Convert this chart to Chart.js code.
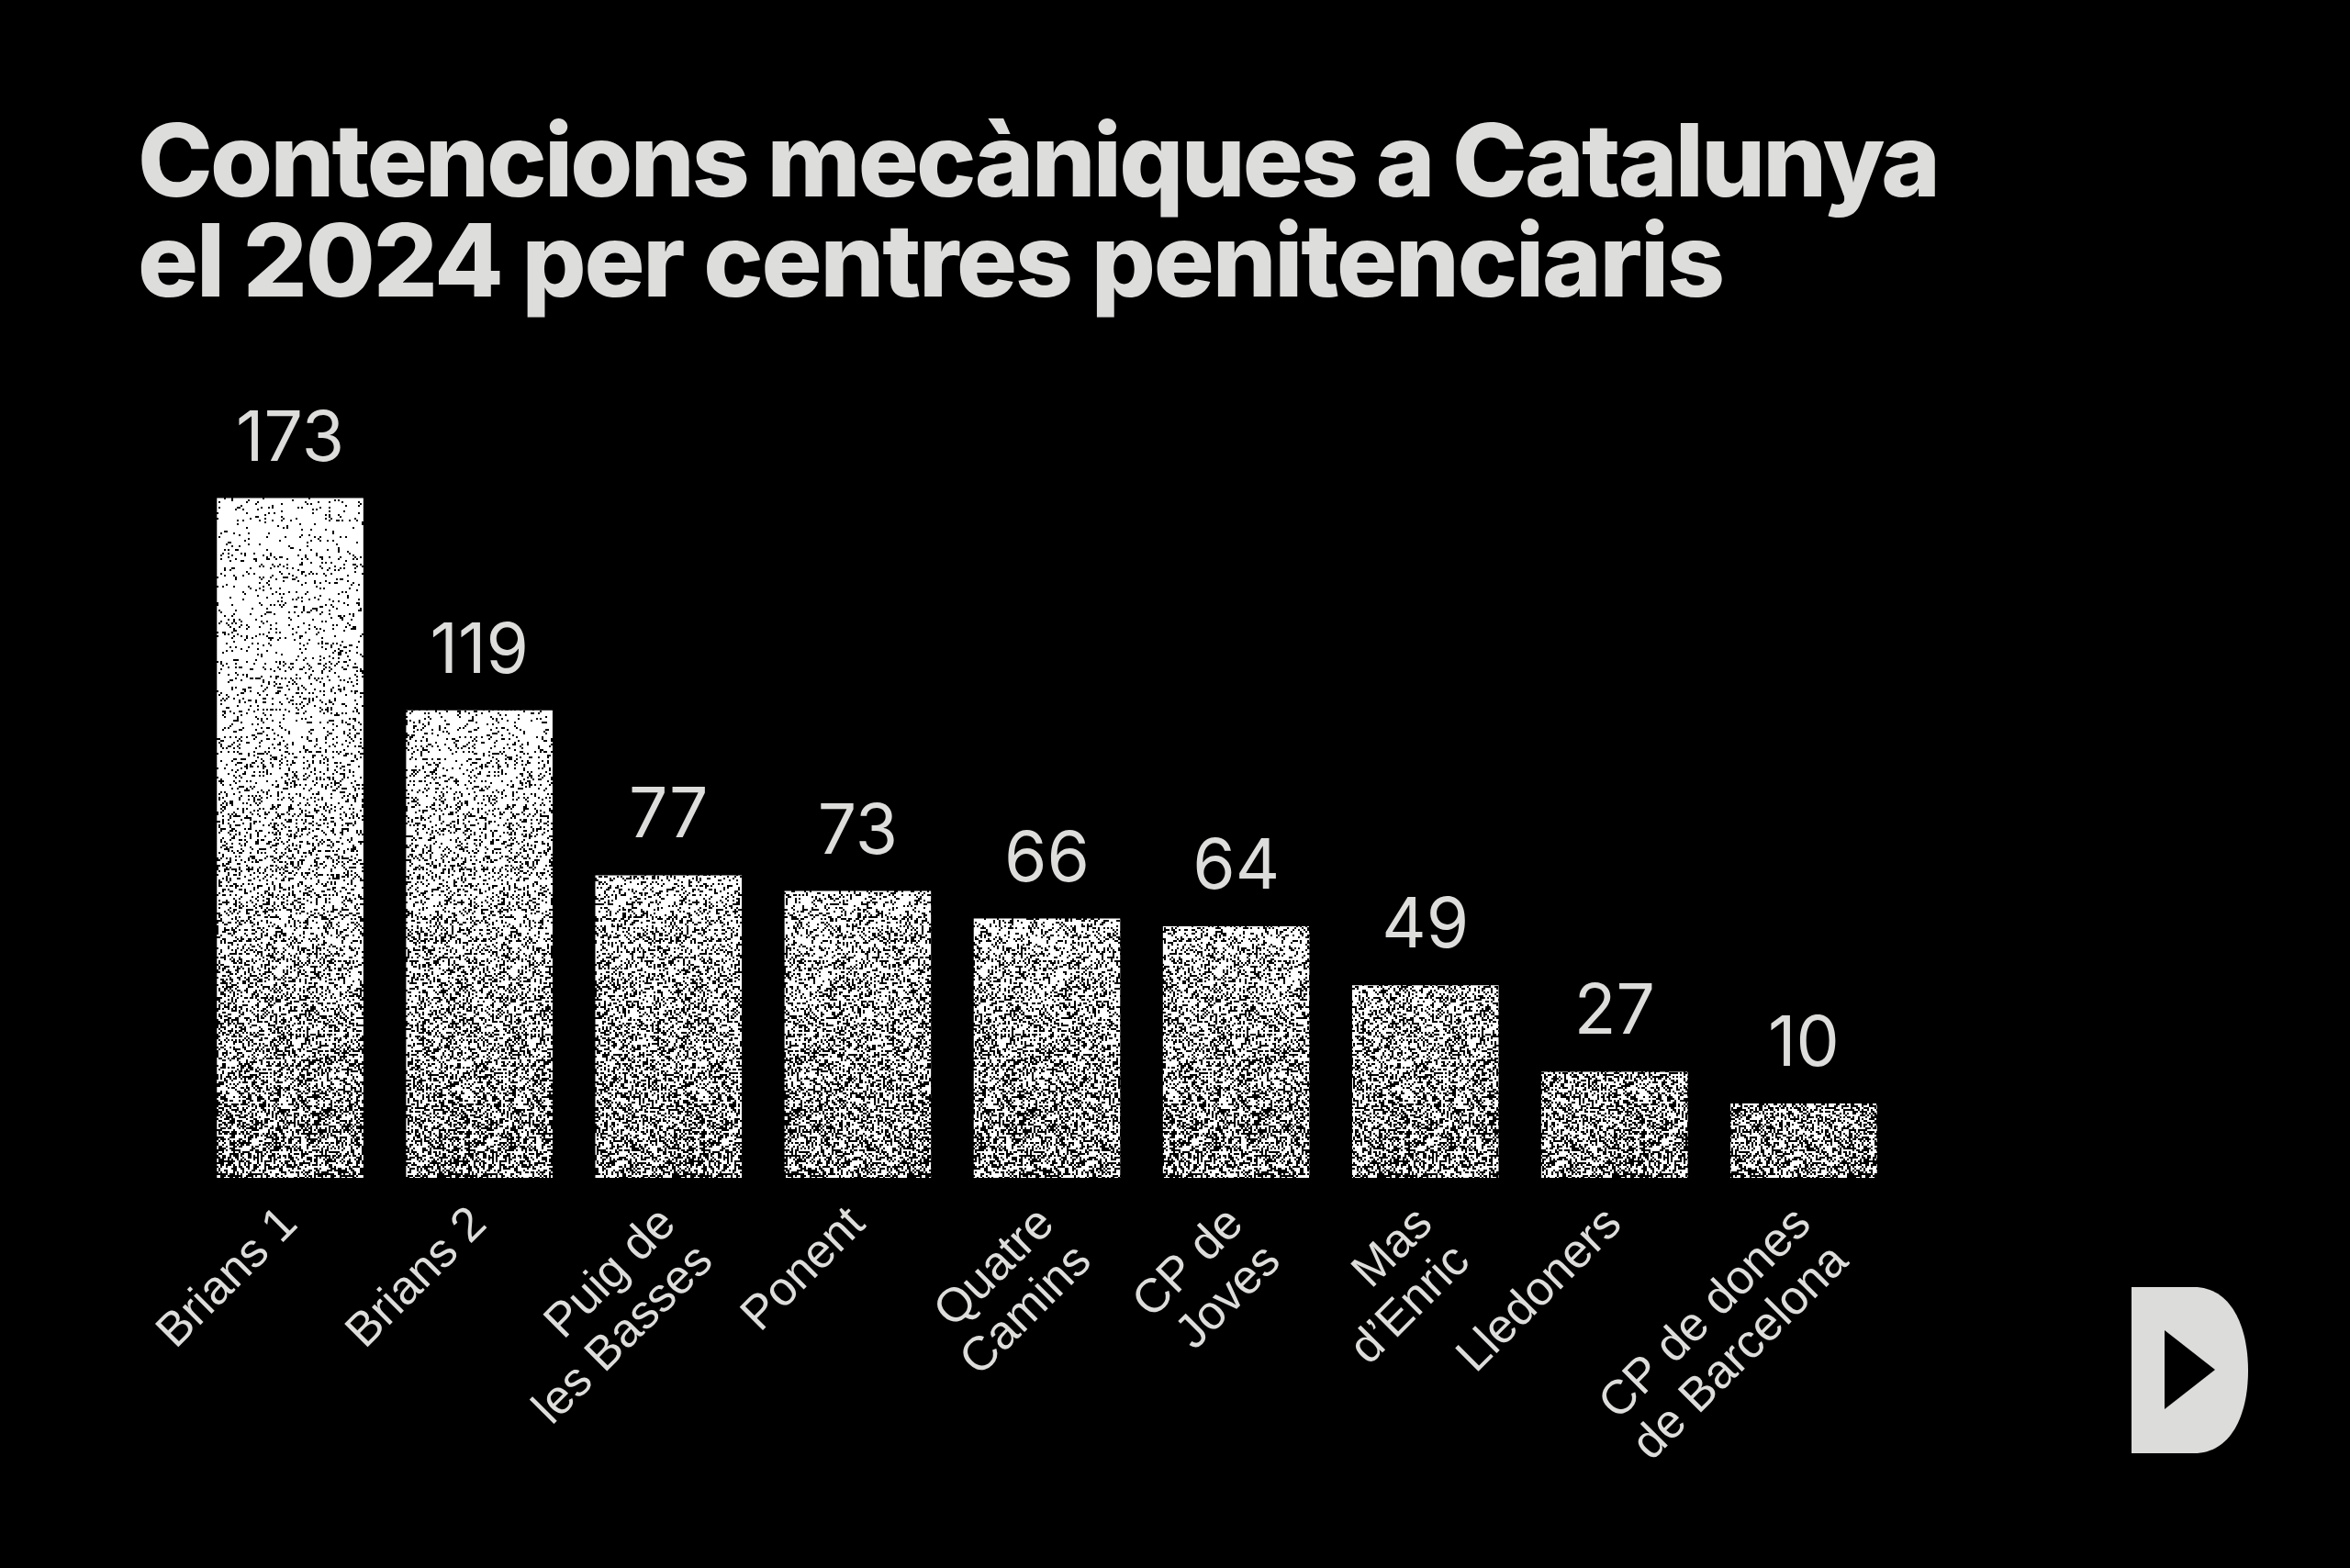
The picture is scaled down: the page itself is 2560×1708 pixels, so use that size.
<!DOCTYPE html>
<html>
<head>
<meta charset="utf-8">
<script src="https://cdn.jsdelivr.net/npm/chart.js@4.4.1/dist/chart.umd.min.js"></script>
<style>
  html, body { margin: 0; padding: 0; background: #000; }
  #wrap { position: relative; width: 2560px; height: 1708px; background: #000; overflow: hidden; }
  #chart { position: absolute; left: 0; top: 0; }
  #title {
    position: absolute; left: 150px; top: 120px; margin: 0;
    font-family: Inter, "Noto Sans", sans-serif; font-weight: 800;
    font-size: 110px; line-height: 109px; color: #dddddb; white-space: nowrap;
  }
  #title span { display: block; }
  #logo { position: absolute; left: 2322px; top: 1402px; }
</style>
</head>
<body>
<div id="wrap">
  <canvas id="chart" width="2560" height="1708"></canvas>
  <h1 id="title"></h1>
  <svg id="logo" width="128" height="182" viewBox="0 0 128 182">
    <path d="M0,0 H68 C108,0 127,42 127,91 C127,140 108,181 68,181 H0 Z" fill="#dcdcda"/>
    <path d="M36,47 L91,90 L36,133 Z" fill="#000"/>
  </svg>
</div>
<script>
// ---- data ----
const titleLines = ['Contencions mecàniques a Catalunya', 'el 2024 per centres penitenciaris'];
const categories = [
  'Brians 1',
  'Brians 2',
  ['Puig de', 'les Basses'],
  'Ponent',
  ['Quatre', 'Camins'],
  ['CP de', 'Joves'],
  ['Mas', 'd’Enric'],
  'Lledoners',
  ['CP de dones', 'de Barcelona']
];
const values = [173, 119, 77, 73, 66, 64, 49, 27, 10];

// ---- style ----
const TEXT = '#dddddb';

// title (HTML text), each line fitted to the reference line length
const titleEl = document.getElementById('title');
const titleTargets = [1964, 1729];
titleLines.forEach((t, i) => {
  const s = document.createElement('span');
  s.textContent = t;
  titleEl.appendChild(s);
  const probe = document.createElement('span');
  probe.style.display = 'inline-block';
  probe.textContent = t;
  titleEl.appendChild(probe);
  const w = probe.getBoundingClientRect().width;
  titleEl.removeChild(probe);
  s.style.letterSpacing = ((titleTargets[i] - w) / (t.length - 1)).toFixed(2) + 'px';
});

// grain texture for the bars (deterministic)
function makeGrain() {
  const W = 256, H = 1708;
  const c = document.createElement('canvas');
  c.width = W; c.height = H;
  const g = c.getContext('2d');
  const img = g.createImageData(W, H);
  let seed = 123456789;
  const rnd = () => { seed ^= seed << 13; seed ^= seed >>> 17; seed ^= seed << 5; return ((seed >>> 0) % 100000) / 100000; };
  const cell = 2;
  for (let cy = 0; cy < H; cy += cell) {
    const t = Math.max(0, Math.min(1, (cy - 543) / 740));
    const d = 0.06 + 0.42 * Math.pow(t, 1.5);
    for (let cx = 0; cx < W; cx += cell) {
      const black = rnd() < d;
      const v = black ? 0 : 255;
      for (let yy = cy; yy < Math.min(cy + cell, H); yy++) {
        for (let xx = cx; xx < cx + cell; xx++) {
          const k = (yy * W + xx) * 4;
          img.data[k] = v; img.data[k + 1] = v; img.data[k + 2] = v; img.data[k + 3] = 255;
        }
      }
    }
  }
  g.putImageData(img, 0, 0);
  return g.createPattern(c, 'repeat');
}
const ctx = document.getElementById('chart').getContext('2d');
const grain = makeGrain();

const valueLabels = {
  id: 'valueLabels',
  afterDatasetsDraw(chart) {
    const c = chart.ctx;
    const meta = chart.getDatasetMeta(0);
    c.save();
    c.font = '400 75px Inter';
    c.fillStyle = TEXT;
    c.textAlign = 'center';
    c.textBaseline = 'alphabetic';
    meta.data.forEach((bar, i) => {
      c.fillText(String(values[i]), bar.x, bar.y - 41);
    });
    c.restore();
  }
};

new Chart(ctx, {
  type: 'bar',
  data: {
    labels: categories,
    datasets: [{
      data: values,
      backgroundColor: grain,
      borderWidth: 0,
      barPercentage: 0.774,
      categoryPercentage: 1,
      minBarLength: 81
    }]
  },
  options: {
    responsive: false,
    devicePixelRatio: 1,
    animation: false,
    layout: { padding: { top: 427, left: 213, right: 492, bottom: 0 } },
    plugins: { legend: { display: false }, tooltip: { enabled: false }, title: { display: false } },
    scales: {
      x: {
        grid: { display: false, drawTicks: false },
        border: { display: false },
        ticks: {
          color: TEXT,
          font: { family: '"Liberation Sans", Arial, sans-serif', size: 52, lineHeight: 1.1 },
          maxRotation: 45, minRotation: 45,
          autoSkip: false,
          padding: 22
        },
        afterFit(scale) { scale.height = 425; }
      },
      y: {
        display: false,
        min: 0, max: 200
      }
    }
  },
  plugins: [valueLabels]
});
</script>
</body>
</html>
